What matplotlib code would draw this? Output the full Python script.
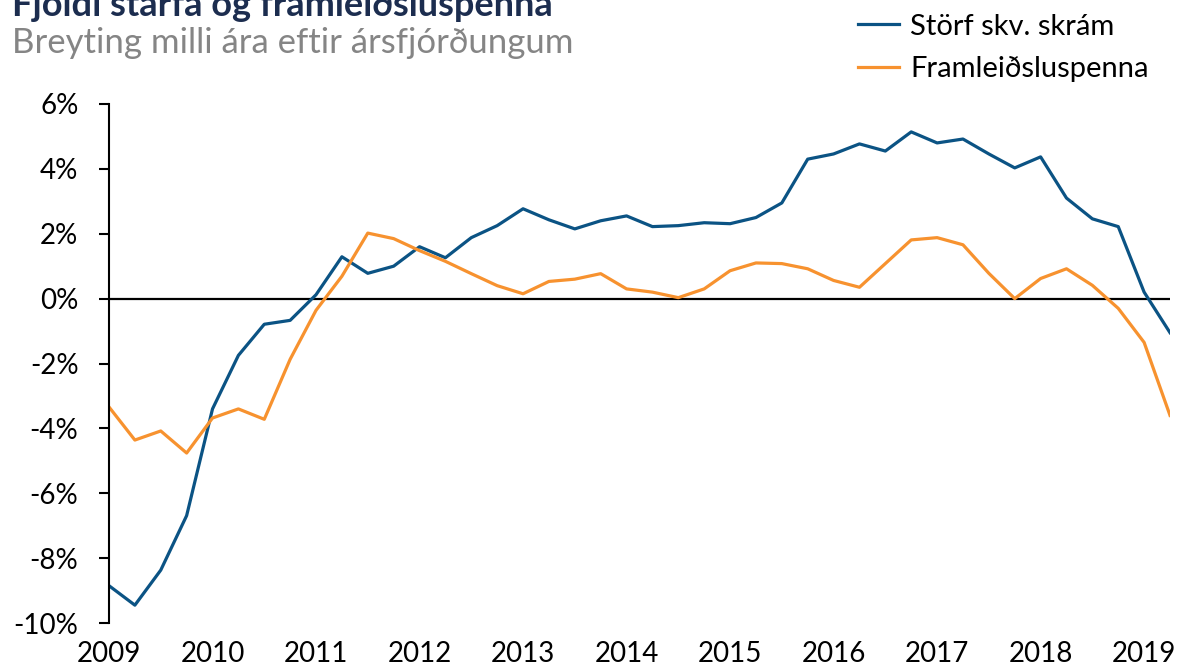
import numpy as np
import matplotlib.pyplot as plt

plt.rcParams['font.family'] = ['Lato', 'DejaVu Sans']

# ársfjórðungar 2009Q1 - 2019Q2
ar = list(range(2009, 2020))
storf = [-8.85, -9.45, -8.37, -6.69, -3.4, -1.75, -0.79, -0.67, 0.12, 1.29,
         0.78, 1.0, 1.6, 1.26, 1.88, 2.25, 2.77, 2.43, 2.15, 2.4,
         2.55, 2.22, 2.25, 2.34, 2.31, 2.5, 2.95, 4.3, 4.46, 4.77,
         4.55, 5.14, 4.8, 4.92, 4.46, 4.03, 4.37, 3.1, 2.46, 2.22,
         0.2, -1.05]
spenna = [-3.34, -4.36, -4.08, -4.76, -3.68, -3.4, -3.72, -1.87, -0.36, 0.69,
          2.02, 1.85, 1.48, 1.15, 0.77, 0.4, 0.15, 0.53, 0.6, 0.77,
          0.3, 0.2, 0.03, 0.3, 0.86, 1.1, 1.08, 0.92, 0.56, 0.35,
          1.08, 1.81, 1.88, 1.66, 0.78, 0.0, 0.62, 0.92, 0.41, -0.3,
          -1.35, -3.6]

blar = '#0b5384'
appelsinugulur = '#f7922f'

fig = plt.figure(figsize=(11.86, 6.68), dpi=100)
ax = fig.add_axes([109/1186, 1 - 623/668, (1170 - 109)/1186, (623 - 104)/668])

x = np.arange(len(storf))
ax.plot(x, storf, color=blar, lw=2.3, label='Störf skv. skrám')
ax.plot(x, spenna, color=appelsinugulur, lw=2.3, label='Framleiðsluspenna')
ax.axhline(0, color='black', lw=1.6, zorder=1)

ax.set_xlim(0, len(storf) - 1)
ax.set_ylim(-10, 6)
ax.set_yticks(range(-10, 7, 2))
ax.set_yticklabels([f'{v}%' for v in range(-10, 7, 2)])
ax.set_xticks(np.arange(0, 41, 4))
ax.set_xticklabels([str(a) for a in ar])

for s in ['top', 'right', 'bottom']:
    ax.spines[s].set_visible(False)
ax.spines['left'].set_linewidth(1.5)
ax.tick_params(axis='y', direction='out', length=7, width=1.5, pad=15, labelsize=20)
ax.tick_params(axis='x', length=0, pad=13, labelsize=20)

# titill er skorinn að ofan eins og í fyrirmyndinni
fig.text(12/1186, 1 - 16/668, 'Fjöldi starfa og framleiðsluspenna', fontsize=26,
         fontweight='bold', color='#1c2d4f', va='baseline', ha='left')
fig.text(12/1186, 1 - 53/668, 'Breyting milli ára eftir ársfjórðungum', fontsize=25,
         color='#858585', va='baseline', ha='left')

fig.legend(loc='upper left', bbox_to_anchor=(846/1186, 1 - 2/668), frameon=False,
           fontsize=21, handlelength=1.4, handletextpad=0.4, labelspacing=0.55,
           borderaxespad=0)

fig.savefig('out.png', dpi=100)
